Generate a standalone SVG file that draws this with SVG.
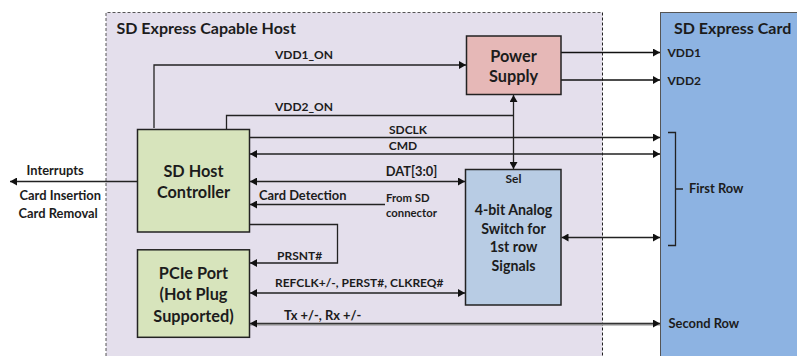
<svg xmlns="http://www.w3.org/2000/svg" width="797" height="356" viewBox="0 0 797 356">
<style>
text{font-family:Lato,"Liberation Sans",sans-serif;font-weight:700;fill:#1c1c1c}
.t{font-size:16.300px;text-anchor:middle}
.h{font-size:16px}
.l{font-size:12px}
.w{font-size:12.900px}
.m{text-anchor:middle}
.n{font-size:14.200px;text-anchor:middle}
.s{font-size:11.300px}
.box{stroke:#222;stroke-width:1.500}
.c{fill:none;stroke:#222;stroke-width:1.300}
.e{marker-end:url(#a)}
.b{marker-start:url(#as);marker-end:url(#a)}
</style>
<defs>
<marker id="a" markerUnits="userSpaceOnUse" markerWidth="8" markerHeight="8" refX="7" refY="4" orient="auto"><path d="M0 0L7 4L0 8Z" fill="#111"/></marker>
<marker id="as" markerUnits="userSpaceOnUse" markerWidth="8" markerHeight="8" refX="0" refY="4" orient="auto"><path d="M7 0L0 4L7 8Z" fill="#111"/></marker>
</defs>
<g id="host"><path d="M106 356V12.500H602.500V356" fill="#e4dfec"/><path d="M106 356V12.500H602.500" fill="none" stroke="#555" stroke-width="1" stroke-dasharray="3 2"/><path d="M602.500 12.500V356" fill="none" stroke="#222" stroke-width="1" stroke-dasharray="3 2"/><text class="h" x="116.500" y="34">SD Express Capable Host</text></g>
<g id="card"><rect x="660.500" y="12.500" width="140" height="350" fill="#8db3e2" stroke="#555" stroke-width="1"/><text class="h" x="674" y="34">SD Express Card</text><text class="l" x="667.500" y="56.500">VDD1</text><text class="l" x="667.500" y="84.500">VDD2</text><text class="w" x="689" y="193">First Row</text><text class="w" x="668.500" y="327.500">Second Row</text></g>
<g id="connectors">
<path class="c e" d="M154 128V65H466"/>
<path class="c" d="M226.500 129V115.500H513.500"/>
<path class="c b" d="M513.500 95V169"/>
<path class="c e" d="M249.500 137.500H660"/>
<path class="c b" d="M250 154H660"/>
<path class="c b" d="M250 181.500H465"/>
<path class="c e" d="M137 181.500H10"/>
<path class="c e" d="M385 204.500H250"/>
<path class="c e" d="M249.500 224.500H337.500V263H250"/>
<path class="c b" d="M250 293H465"/>
<path d="M250 324H660" fill="none" stroke="#8a8a8a" stroke-width="3"/>
<path class="b" d="M250 323.500H660" fill="none" stroke="#333" stroke-width="1"/>
<path class="c b" d="M561.500 237.500H660"/>
<path class="e" d="M561 52.500H660" fill="none" stroke="#111" stroke-width="1.600"/>
<path class="e" d="M561 80H660" fill="none" stroke="#111" stroke-width="1.600"/>
<path class="c" d="M668 132.500H675.500V245.500H668M675.500 189H683"/>
</g>
<g id="power"><rect class="box" x="466.500" y="36" width="94.500" height="58.500" fill="#e6b8b7"/><text class="t" x="513.500" y="62">Power</text><text class="t" x="513.500" y="82">Supply</text></g>
<g id="sd-host-controller"><rect class="box" x="137.500" y="129.500" width="112" height="102.500" fill="#d7e4bc"/><text class="t" x="193.500" y="177">SD Host</text><text class="t" x="193.500" y="198">Controller</text></g>
<g id="pcie-port"><rect class="box" x="137.500" y="249.800" width="112" height="87.500" fill="#d7e4bc"/><text class="t" x="193.500" y="279">PCIe Port</text><text class="t" x="193.500" y="300">(Hot Plug</text><text class="t" x="193.500" y="321.500">Supported)</text></g>
<g id="analog-switch"><rect class="box" x="465.500" y="169.500" width="95.500" height="135.500" fill="#b8cce4"/><text class="m l" x="513.500" y="183">Sel</text><text class="n" x="513.500" y="215">4-bit Analog</text><text class="n" x="513.500" y="234">Switch for</text><text class="n" x="513.500" y="252">1st row</text><text class="n" x="513.500" y="271">Signals</text></g>
<g id="labels">
<text class="l m" x="304" y="59">VDD1_ON</text>
<text class="l m" x="304" y="111">VDD2_ON</text>
<text class="l m" x="408" y="134">SDCLK</text>
<text class="l m" x="403" y="150">CMD</text>
<text class="w m" x="411.500" y="176">DAT[3:0]</text>
<text class="w" x="259" y="200">Card Detection</text>
<text class="s" x="386" y="202">From SD</text>
<text class="s" x="386" y="217">connector</text>
<text class="l" x="277" y="259.500">PRSNT#</text>
<text class="l" x="275" y="287">REFCLK+/-, PERST#, CLKREQ#</text>
<text class="w" x="284" y="319.500">Tx +/-, Rx +/-</text>
<text class="w" x="26.500" y="175">Interrupts</text>
<text class="w" x="19.500" y="200">Card Insertion</text>
<text class="w" x="18.500" y="217.500">Card Removal</text>
</g>
</svg>
